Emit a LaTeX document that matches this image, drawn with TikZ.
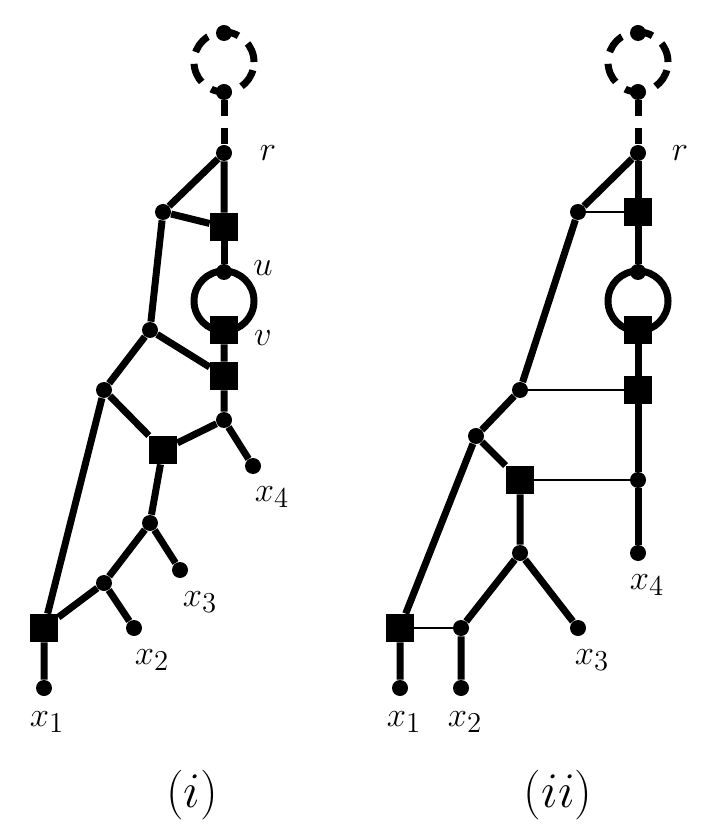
\documentclass[tikz,border=0pt]{standalone}
\usepackage{amsmath}
\begin{document}
\begin{tikzpicture}[x=0.5pt,y=-0.5pt,
    dot/.style={circle,fill,inner sep=0pt,minimum size=8pt},
    box/.style={rectangle,fill,inner sep=0pt,minimum size=14pt},
    lbl/.style={font=\fontsize{19}{22}\selectfont},
    thick line/.style={line width=3.5pt},
    thin line/.style={line width=0.6pt}]
    \useasboundingbox (0,0) rectangle (714,838);

    % Define nodes (i)
    \node[dot] (Rt) at (224,33) {};
    \node[dot] (Rb) at (224,92) {};
    \node[dot] (R) at (224,153) {};
    \node[dot] (A) at (163,212) {};
    \node[box] (S1) at (224,227) {};
    \node[dot] (U) at (224,272) {};
    \node[box] (V) at (224,330) {};
    \node[box] (S2) at (224,376) {};
    \node[dot] (B) at (150,330) {};
    \node[dot] (C) at (104,390) {};
    \node[box] (S3) at (163,450) {};
    \node[dot] (D) at (224,420) {};
    \node[dot] (X4) at (253,466) {};
    \node[dot] (E) at (150,523) {};
    \node[dot] (X3) at (180,570) {};
    \node[dot] (F) at (104,583) {};
    \node[dot] (X2) at (134,628) {};
    \node[box] (S4) at (44,628) {};
    \node[dot] (X1) at (44,688) {};

    % Draw edges (i)
    \draw[thick line,dashed,dash pattern=on 10pt off 6pt] (224,62) circle (15pt);
    \draw[thick line,dashed,dash pattern=on 8pt off 6pt] (Rb) -- (R);
    \draw[thick line] (R) -- (A) -- (S1) -- (R);
    \draw[thick line] (S1) -- (U);
    \draw[thick line] (224,301) circle (15pt);
    \draw[thick line] (V) -- (S2) -- (D) -- (X4);
    \draw[thick line] (A) -- (B) -- (S2);
    \draw[thick line] (B) -- (C) -- (S4) -- (X1);
    \draw[thick line] (C) -- (S3) -- (D);
    \draw[thick line] (S3) -- (E) -- (X3);
    \draw[thick line] (E) -- (F) -- (X2);
    \draw[thick line] (F) -- (S4);

    % Labels (i)
    \node[lbl] at (268,153) {$r$};
    \node[lbl] at (263,268) {$u$};
    \node[lbl] at (263,338) {$v$};
    \node[lbl] at (272,497) {$x_4$};
    \node[lbl] at (200,602) {$x_3$};
    \node[lbl] at (152,660) {$x_2$};
    \node[lbl] at (47,722) {$x_1$};
    \node[font=\fontsize{26}{30}\selectfont] at (192,795) {$(i)$};

    % Define nodes (ii)
    \node[dot] (rt) at (638,33) {};
    \node[dot] (rb) at (638,92) {};
    \node[dot] (r) at (638,153) {};
    \node[dot] (a) at (578,212) {};
    \node[box] (s1) at (638,212) {};
    \node[dot] (u) at (638,272) {};
    \node[box] (v) at (638,330) {};
    \node[box] (s2) at (638,390) {};
    \node[dot] (b) at (520,390) {};
    \node[dot] (c) at (476,436) {};
    \node[box] (s3) at (520,480) {};
    \node[dot] (d) at (638,480) {};
    \node[dot] (x4) at (638,553) {};
    \node[dot] (e) at (520,553) {};
    \node[dot] (x3) at (578,628) {};
    \node[dot] (f) at (461,628) {};
    \node[box] (s4) at (400,628) {};
    \node[dot] (x2) at (461,688) {};
    \node[dot] (x1) at (400,688) {};

    % Draw edges (ii)
    \draw[thick line,dashed,dash pattern=on 10pt off 6pt] (638,62) circle (15pt);
    \draw[thick line,dashed,dash pattern=on 8pt off 6pt] (rb) -- (r);
    \draw[thick line] (r) -- (a) -- (b) -- (c) -- (s4) -- (x1);
    \draw[thick line] (r) -- (s1) -- (u);
    \draw[thick line] (638,301) circle (15pt);
    \draw[thick line] (v) -- (s2) -- (d) -- (x4);
    \draw[thick line] (c) -- (s3) -- (e) -- (x3);
    \draw[thick line] (e) -- (f) -- (x2);
    \draw[thin line] (a) -- (s1);
    \draw[thin line] (b) -- (s2);
    \draw[thin line] (s3) -- (d);
    \draw[thin line] (s4) -- (f);

    % Labels (ii)
    \node[lbl] at (680,153) {$r$};
    \node[lbl] at (647,585) {$x_4$};
    \node[lbl] at (592,660) {$x_3$};
    \node[lbl] at (465,722) {$x_2$};
    \node[lbl] at (404,722) {$x_1$};
    \node[font=\fontsize{26}{30}\selectfont] at (558,795) {$(ii)$};
\end{tikzpicture}
\end{document}
